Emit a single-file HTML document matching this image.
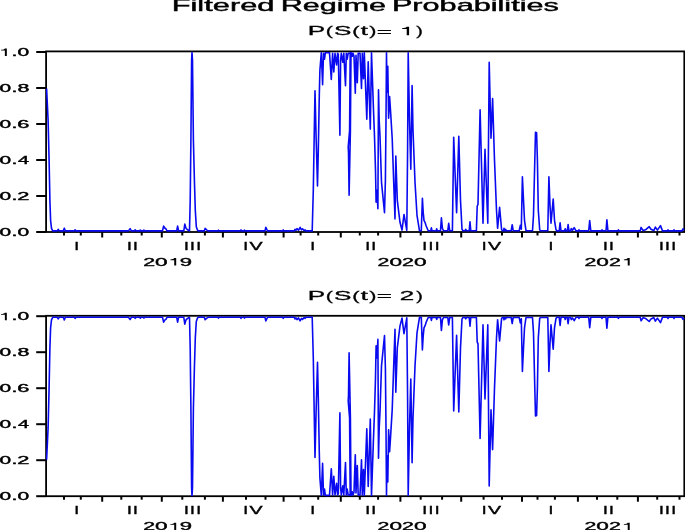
<!DOCTYPE html><html><head><meta charset="utf-8"><style>html,body{margin:0;padding:0;background:#fff;overflow:hidden}svg{display:block;will-change:transform}</style></head><body><svg width="685" height="530" viewBox="0 0 685 530" font-family="'Liberation Sans', sans-serif">
<rect width="685" height="530" fill="#fff"/>
<text transform="translate(171.72,10.50) scale(1.925,1)" font-size="16" font-weight="normal" stroke="#000" stroke-width="0.4">Filtered</text>
<text transform="translate(280.64,10.50) scale(1.911,1)" font-size="16" font-weight="normal" stroke="#000" stroke-width="0.4">Regime</text>
<text transform="translate(391.93,10.50) scale(1.915,1)" font-size="16" font-weight="normal" stroke="#000" stroke-width="0.4">Probabilities</text>
<text transform="translate(307.74,35.30) scale(2.112,1)" font-size="12.3" font-weight="normal" stroke="#000" stroke-width="0.3">P</text>
<text transform="translate(325.77,35.30) scale(1.744,1)" font-size="12.3" font-weight="normal" stroke="#000" stroke-width="0.3">(</text>
<text transform="translate(334.01,35.30) scale(2.120,1)" font-size="12.3" font-weight="normal" stroke="#000" stroke-width="0.3">S</text>
<text transform="translate(352.26,35.30) scale(1.772,1)" font-size="12.3" font-weight="normal" stroke="#000" stroke-width="0.3">(</text>
<text transform="translate(360.70,35.30) scale(2.074,1)" font-size="12.3" font-weight="normal" stroke="#000" stroke-width="0.3">t</text>
<text transform="translate(369.15,35.30) scale(1.744,1)" font-size="12.3" font-weight="normal" stroke="#000" stroke-width="0.3">)</text>
<text transform="translate(376.72,36.00) scale(2.112,1)" font-size="12.3" font-weight="normal" stroke="#000" stroke-width="0.3">=</text>
<polygon points="406.72,26.69 409.10,26.69 409.10,35.30 406.72,35.30 406.72,29.09 402.10,29.09 402.10,28.23 403.68,28.10 405.27,27.74 406.19,27.24" fill="#000"/>
<text transform="translate(416.14,35.30) scale(1.601,1)" font-size="12.3" font-weight="normal" stroke="#000" stroke-width="0.3">)</text>
<rect x="46.1" y="51.4" width="638.1999999999999" height="180.6" fill="none" stroke="#000" stroke-width="1.8"/>
<polyline points="46.60,88.50 48.10,120.30 49.10,160.30 49.90,200.30 50.60,220.30 51.50,228.30 52.70,230.90 57.20,230.90 58.20,229.30 59.20,230.90 63.30,230.90 64.30,228.20 65.30,230.90 74.30,230.90 75.10,229.80 76.00,230.90 128.50,230.90 130.10,228.70 131.30,230.90 134.50,230.90 135.20,229.80 136.00,230.90 139.50,230.90 140.30,230.10 141.00,230.90 143.30,230.90 143.90,230.10 144.50,230.90 162.50,230.90 163.60,226.10 165.00,228.30 165.90,228.80 167.00,230.90 176.70,230.90 177.60,226.10 178.60,230.90 183.80,230.90 184.80,224.10 186.00,228.30 187.50,229.80 189.50,230.90 190.20,200.30 190.90,140.30 191.60,60.30 192.00,52.50 192.50,60.30 193.40,140.30 194.40,180.30 195.30,210.30 196.30,226.70 197.50,230.30 198.50,230.90 204.30,230.90 205.10,228.40 206.50,229.80 208.10,230.90 218.00,230.90 218.50,230.10 219.00,230.90 240.30,230.90 241.00,229.90 241.70,230.90 244.00,230.90 244.50,230.10 245.00,230.90 265.00,230.90 265.80,227.30 267.50,230.90 282.60,230.90 283.20,229.90 283.80,230.90 294.30,230.90 295.00,229.30 296.00,230.30 297.00,228.60 298.50,230.30 300.10,227.30 301.50,229.80 302.50,228.80 304.00,230.60 305.00,229.80 306.00,230.90 312.20,230.90 313.30,190.30 314.30,130.30 315.00,90.80 316.20,140.30 317.50,185.90 318.30,150.30 319.30,95.30 319.90,70.30 321.30,52.80 322.60,84.80 323.50,53.30 324.50,59.10 325.30,52.80 329.50,52.80 331.30,79.50 332.60,53.30 333.80,72.00 335.00,53.30 336.60,64.90 337.60,53.30 338.30,54.30 339.90,135.30 340.60,60.30 341.30,53.30 342.80,62.30 343.80,53.30 345.50,85.70 346.30,53.30 347.20,59.10 348.20,53.30 349.60,53.30 350.20,52.80 349.60,130.30 348.20,147.30 348.50,152.30 349.10,195.30 350.40,130.30 351.00,52.80 351.80,53.30 352.30,56.30 353.00,53.30 354.00,56.30 355.30,93.30 356.00,55.30 357.30,82.70 358.20,53.30 360.00,53.30 361.50,88.50 362.30,53.30 363.50,78.70 364.30,52.80 366.80,119.30 368.20,61.80 370.30,129.10 371.50,52.80 373.50,110.30 374.50,136.30 375.50,170.30 376.10,202.30 377.00,190.30 377.90,208.80 378.50,89.90 379.20,120.30 380.00,136.30 381.50,182.30 384.50,212.70 385.40,180.30 386.00,120.30 386.50,52.80 387.00,92.30 387.80,66.30 388.60,118.30 389.60,96.60 390.50,110.30 392.20,138.30 393.70,182.30 395.00,218.90 395.80,156.00 397.30,200.30 400.00,222.30 402.00,230.10 404.00,214.50 406.80,230.30 407.60,150.30 408.20,52.80 409.50,120.30 410.80,169.20 412.10,85.50 413.00,130.30 415.00,182.30 417.00,215.30 419.50,230.80 421.30,230.70 422.40,198.30 423.20,212.30 424.00,220.40 425.00,222.30 426.10,225.80 428.20,230.70 430.80,230.70 431.40,227.80 432.00,230.70 436.20,230.70 436.70,228.80 437.30,230.70 440.50,230.70 441.40,217.80 442.40,228.30 443.50,230.70 447.80,230.70 448.70,223.30 449.70,230.70 452.40,230.70 453.70,137.30 456.60,212.80 458.80,136.30 460.50,200.30 462.00,229.30 463.00,230.70 465.00,230.70 465.70,229.30 466.50,230.70 469.20,230.70 470.00,221.90 470.80,230.70 476.40,230.70 477.20,206.30 478.00,204.30 480.10,109.70 483.00,223.30 485.00,149.30 487.80,223.30 489.20,62.30 491.00,138.30 492.60,98.60 494.50,160.30 496.50,210.30 497.60,228.30 499.60,207.30 501.60,229.80 502.50,230.70 503.50,230.70 504.00,228.30 504.70,230.70 505.30,230.70 505.70,229.30 506.20,230.70 511.20,230.70 512.20,224.70 513.20,230.70 519.20,230.70 520.30,225.30 521.30,229.30 522.40,176.70 523.50,200.30 524.50,220.30 526.00,230.70 532.50,230.70 533.50,215.30 534.80,160.30 535.50,132.30 536.60,132.80 537.40,160.30 538.30,210.30 539.70,229.80 540.50,230.70 547.80,230.70 548.90,176.70 550.00,205.30 551.00,223.30 553.20,199.00 554.50,220.30 556.00,229.80 557.00,230.90 559.20,230.90 560.10,222.80 561.00,230.90 564.50,230.90 565.20,228.80 566.00,230.90 567.30,230.90 568.10,224.50 569.00,230.90 570.50,230.90 571.30,228.60 572.50,230.30 574.20,227.60 576.00,230.90 578.50,230.90 579.00,229.80 579.50,230.90 588.70,230.90 589.70,220.60 590.80,230.90 601.50,230.90 602.00,229.80 602.50,230.90 606.00,230.90 606.90,219.90 607.90,230.90 617.80,230.90 618.40,229.80 619.00,230.90 640.20,230.90 641.10,227.40 643.10,230.60 645.50,229.80 649.20,226.70 651.00,229.30 653.80,230.60 655.40,227.10 657.40,230.10 660.50,225.60 662.50,230.90 667.50,230.90 668.00,229.80 668.50,230.90 673.50,230.90 674.00,229.80 674.50,230.90 682.00,230.90 683.00,228.80 684.00,230.30" fill="none" stroke="#0a0af0" stroke-width="1.6" stroke-linejoin="round"/>
<line x1="36.2" y1="232.00" x2="46.1" y2="232.00" stroke="#000" stroke-width="2"/>
<text transform="translate(-0.45,236.05) scale(1.934,1)" font-size="10.8" font-weight="normal" stroke="#000" stroke-width="0.4">0</text>
<text transform="translate(11.39,236.05) scale(1.959,1)" font-size="10.8" font-weight="normal" stroke="#000" stroke-width="0.4">.</text>
<text transform="translate(17.60,236.05) scale(1.943,1)" font-size="10.8" font-weight="normal" stroke="#000" stroke-width="0.4">0</text>
<line x1="36.2" y1="196.00" x2="46.1" y2="196.00" stroke="#000" stroke-width="2"/>
<text transform="translate(-0.45,200.05) scale(1.934,1)" font-size="10.8" font-weight="normal" stroke="#000" stroke-width="0.4">0</text>
<text transform="translate(11.39,200.05) scale(1.959,1)" font-size="10.8" font-weight="normal" stroke="#000" stroke-width="0.4">.</text>
<text transform="translate(17.36,200.05) scale(2.021,1)" font-size="10.8" font-weight="normal" stroke="#000" stroke-width="0.4">2</text>
<line x1="36.2" y1="160.00" x2="46.1" y2="160.00" stroke="#000" stroke-width="2"/>
<text transform="translate(-0.45,164.05) scale(1.934,1)" font-size="10.8" font-weight="normal" stroke="#000" stroke-width="0.4">0</text>
<text transform="translate(11.39,164.05) scale(1.959,1)" font-size="10.8" font-weight="normal" stroke="#000" stroke-width="0.4">.</text>
<text transform="translate(18.02,164.05) scale(1.836,1)" font-size="10.8" font-weight="normal" stroke="#000" stroke-width="0.4">4</text>
<line x1="36.2" y1="124.00" x2="46.1" y2="124.00" stroke="#000" stroke-width="2"/>
<text transform="translate(-0.45,128.05) scale(1.934,1)" font-size="10.8" font-weight="normal" stroke="#000" stroke-width="0.4">0</text>
<text transform="translate(11.39,128.05) scale(1.959,1)" font-size="10.8" font-weight="normal" stroke="#000" stroke-width="0.4">.</text>
<text transform="translate(17.36,128.05) scale(2.021,1)" font-size="10.8" font-weight="normal" stroke="#000" stroke-width="0.4">6</text>
<line x1="36.2" y1="88.00" x2="46.1" y2="88.00" stroke="#000" stroke-width="2"/>
<text transform="translate(-0.45,92.05) scale(1.934,1)" font-size="10.8" font-weight="normal" stroke="#000" stroke-width="0.4">0</text>
<text transform="translate(11.39,92.05) scale(1.959,1)" font-size="10.8" font-weight="normal" stroke="#000" stroke-width="0.4">.</text>
<text transform="translate(17.59,92.05) scale(1.981,1)" font-size="10.8" font-weight="normal" stroke="#000" stroke-width="0.4">8</text>
<line x1="36.2" y1="52.00" x2="46.1" y2="52.00" stroke="#000" stroke-width="2"/>
<polygon points="4.87,48.49 6.83,48.49 6.83,56.05 4.87,56.05 4.87,50.60 1.05,50.60 1.05,49.84 2.36,49.73 3.67,49.41 4.43,48.98" fill="#000"/>
<text transform="translate(11.39,56.05) scale(1.959,1)" font-size="10.8" font-weight="normal" stroke="#000" stroke-width="0.4">.</text>
<text transform="translate(17.60,56.05) scale(1.943,1)" font-size="10.8" font-weight="normal" stroke="#000" stroke-width="0.4">0</text>
<line x1="102.2" y1="232.0" x2="102.2" y2="237.5" stroke="#000" stroke-width="2"/>
<line x1="161.8" y1="232.0" x2="161.8" y2="237.5" stroke="#000" stroke-width="2"/>
<line x1="222.9" y1="232.0" x2="222.9" y2="237.5" stroke="#000" stroke-width="2"/>
<line x1="283.6" y1="232.0" x2="283.6" y2="237.5" stroke="#000" stroke-width="2"/>
<line x1="340.8" y1="232.0" x2="340.8" y2="237.5" stroke="#000" stroke-width="2"/>
<line x1="400.4" y1="232.0" x2="400.4" y2="237.5" stroke="#000" stroke-width="2"/>
<line x1="461.2" y1="232.0" x2="461.2" y2="237.5" stroke="#000" stroke-width="2"/>
<line x1="522.0" y1="232.0" x2="522.0" y2="237.5" stroke="#000" stroke-width="2"/>
<line x1="577.9" y1="232.0" x2="577.9" y2="237.5" stroke="#000" stroke-width="2"/>
<line x1="637.9" y1="232.0" x2="637.9" y2="237.5" stroke="#000" stroke-width="2"/>
<line x1="64.0" y1="232.0" x2="64.0" y2="235.5" stroke="#000" stroke-width="2"/>
<line x1="80.8" y1="232.0" x2="80.8" y2="235.5" stroke="#000" stroke-width="2"/>
<line x1="121.3" y1="232.0" x2="121.3" y2="235.5" stroke="#000" stroke-width="2"/>
<line x1="141.7" y1="232.0" x2="141.7" y2="235.5" stroke="#000" stroke-width="2"/>
<line x1="182.3" y1="232.0" x2="182.3" y2="235.5" stroke="#000" stroke-width="2"/>
<line x1="204.9" y1="232.0" x2="204.9" y2="235.5" stroke="#000" stroke-width="2"/>
<line x1="246.0" y1="232.0" x2="246.0" y2="235.5" stroke="#000" stroke-width="2"/>
<line x1="265.5" y1="232.0" x2="265.5" y2="235.5" stroke="#000" stroke-width="2"/>
<line x1="300.6" y1="232.0" x2="300.6" y2="235.5" stroke="#000" stroke-width="2"/>
<line x1="318.2" y1="232.0" x2="318.2" y2="235.5" stroke="#000" stroke-width="2"/>
<line x1="359.8" y1="232.0" x2="359.8" y2="235.5" stroke="#000" stroke-width="2"/>
<line x1="378.1" y1="232.0" x2="378.1" y2="235.5" stroke="#000" stroke-width="2"/>
<line x1="420.7" y1="232.0" x2="420.7" y2="235.5" stroke="#000" stroke-width="2"/>
<line x1="442.1" y1="232.0" x2="442.1" y2="235.5" stroke="#000" stroke-width="2"/>
<line x1="483.6" y1="232.0" x2="483.6" y2="235.5" stroke="#000" stroke-width="2"/>
<line x1="502.0" y1="232.0" x2="502.0" y2="235.5" stroke="#000" stroke-width="2"/>
<line x1="537.5" y1="232.0" x2="537.5" y2="235.5" stroke="#000" stroke-width="2"/>
<line x1="554.9" y1="232.0" x2="554.9" y2="235.5" stroke="#000" stroke-width="2"/>
<line x1="597.0" y1="232.0" x2="597.0" y2="235.5" stroke="#000" stroke-width="2"/>
<line x1="617.3" y1="232.0" x2="617.3" y2="235.5" stroke="#000" stroke-width="2"/>
<line x1="657.2" y1="232.0" x2="657.2" y2="235.5" stroke="#000" stroke-width="2"/>
<line x1="679.5" y1="232.0" x2="679.5" y2="235.5" stroke="#000" stroke-width="2"/>
<text transform="translate(74.27,249.50) scale(1.608,1)" font-size="10.8" font-weight="normal" stroke="#000" stroke-width="0.35">I</text>
<text transform="translate(127.07,249.50) scale(1.608,1)" font-size="10.8" font-weight="normal" stroke="#000" stroke-width="0.35">I</text>
<text transform="translate(133.07,249.50) scale(1.608,1)" font-size="10.8" font-weight="normal" stroke="#000" stroke-width="0.35">I</text>
<text transform="translate(183.97,249.50) scale(1.608,1)" font-size="10.8" font-weight="normal" stroke="#000" stroke-width="0.35">I</text>
<text transform="translate(190.07,249.50) scale(1.608,1)" font-size="10.8" font-weight="normal" stroke="#000" stroke-width="0.35">I</text>
<text transform="translate(196.37,249.50) scale(1.608,1)" font-size="10.8" font-weight="normal" stroke="#000" stroke-width="0.35">I</text>
<text transform="translate(243.37,249.50) scale(1.608,1)" font-size="10.8" font-weight="normal" stroke="#000" stroke-width="0.35">I</text>
<text transform="translate(249.52,249.50) scale(1.818,1)" font-size="10.8" font-weight="normal" stroke="#000" stroke-width="0.35">V</text>
<text transform="translate(310.27,249.50) scale(1.608,1)" font-size="10.8" font-weight="normal" stroke="#000" stroke-width="0.35">I</text>
<text transform="translate(365.27,249.50) scale(1.608,1)" font-size="10.8" font-weight="normal" stroke="#000" stroke-width="0.35">I</text>
<text transform="translate(371.27,249.50) scale(1.608,1)" font-size="10.8" font-weight="normal" stroke="#000" stroke-width="0.35">I</text>
<text transform="translate(422.37,249.50) scale(1.608,1)" font-size="10.8" font-weight="normal" stroke="#000" stroke-width="0.35">I</text>
<text transform="translate(428.57,249.50) scale(1.608,1)" font-size="10.8" font-weight="normal" stroke="#000" stroke-width="0.35">I</text>
<text transform="translate(434.77,249.50) scale(1.608,1)" font-size="10.8" font-weight="normal" stroke="#000" stroke-width="0.35">I</text>
<text transform="translate(481.77,249.50) scale(1.608,1)" font-size="10.8" font-weight="normal" stroke="#000" stroke-width="0.35">I</text>
<text transform="translate(487.92,249.50) scale(1.818,1)" font-size="10.8" font-weight="normal" stroke="#000" stroke-width="0.35">V</text>
<text transform="translate(548.57,249.50) scale(1.608,1)" font-size="10.8" font-weight="normal" stroke="#000" stroke-width="0.35">I</text>
<text transform="translate(603.07,249.50) scale(1.608,1)" font-size="10.8" font-weight="normal" stroke="#000" stroke-width="0.35">I</text>
<text transform="translate(609.07,249.50) scale(1.608,1)" font-size="10.8" font-weight="normal" stroke="#000" stroke-width="0.35">I</text>
<text transform="translate(658.97,249.50) scale(1.608,1)" font-size="10.8" font-weight="normal" stroke="#000" stroke-width="0.35">I</text>
<text transform="translate(665.07,249.50) scale(1.608,1)" font-size="10.8" font-weight="normal" stroke="#000" stroke-width="0.35">I</text>
<text transform="translate(671.27,249.50) scale(1.608,1)" font-size="10.8" font-weight="normal" stroke="#000" stroke-width="0.35">I</text>
<text transform="translate(143.18,265.60) scale(1.974,1)" font-size="10.8" font-weight="normal" stroke="#000" stroke-width="0.35">2</text>
<text transform="translate(155.11,265.60) scale(2.096,1)" font-size="10.8" font-weight="normal" stroke="#000" stroke-width="0.35">0</text>
<polygon points="174.23,258.04 176.20,258.04 176.20,265.60 174.23,265.60 174.23,260.15 170.40,260.15 170.40,259.39 171.71,259.28 173.03,258.96 173.79,258.53" fill="#000"/>
<text transform="translate(179.75,265.60) scale(2.050,1)" font-size="10.8" font-weight="normal" stroke="#000" stroke-width="0.35">9</text>
<text transform="translate(377.48,265.60) scale(1.974,1)" font-size="10.8" font-weight="normal" stroke="#000" stroke-width="0.35">2</text>
<text transform="translate(389.41,265.60) scale(2.096,1)" font-size="10.8" font-weight="normal" stroke="#000" stroke-width="0.35">0</text>
<text transform="translate(402.08,265.60) scale(1.974,1)" font-size="10.8" font-weight="normal" stroke="#000" stroke-width="0.35">2</text>
<text transform="translate(414.01,265.60) scale(2.096,1)" font-size="10.8" font-weight="normal" stroke="#000" stroke-width="0.35">0</text>
<text transform="translate(584.38,265.60) scale(1.974,1)" font-size="10.8" font-weight="normal" stroke="#000" stroke-width="0.35">2</text>
<text transform="translate(596.31,265.60) scale(2.096,1)" font-size="10.8" font-weight="normal" stroke="#000" stroke-width="0.35">0</text>
<text transform="translate(608.98,265.60) scale(1.974,1)" font-size="10.8" font-weight="normal" stroke="#000" stroke-width="0.35">2</text>
<polygon points="627.73,258.04 629.70,258.04 629.70,265.60 627.73,265.60 627.73,260.15 623.90,260.15 623.90,259.39 625.21,259.28 626.53,258.96 627.29,258.53" fill="#000"/>
<text transform="translate(307.74,299.50) scale(2.112,1)" font-size="12.3" font-weight="normal" stroke="#000" stroke-width="0.3">P</text>
<text transform="translate(325.77,299.50) scale(1.744,1)" font-size="12.3" font-weight="normal" stroke="#000" stroke-width="0.3">(</text>
<text transform="translate(334.01,299.50) scale(2.120,1)" font-size="12.3" font-weight="normal" stroke="#000" stroke-width="0.3">S</text>
<text transform="translate(352.26,299.50) scale(1.772,1)" font-size="12.3" font-weight="normal" stroke="#000" stroke-width="0.3">(</text>
<text transform="translate(360.70,299.50) scale(2.074,1)" font-size="12.3" font-weight="normal" stroke="#000" stroke-width="0.3">t</text>
<text transform="translate(369.15,299.50) scale(1.744,1)" font-size="12.3" font-weight="normal" stroke="#000" stroke-width="0.3">)</text>
<text transform="translate(376.72,300.20) scale(2.112,1)" font-size="12.3" font-weight="normal" stroke="#000" stroke-width="0.3">=</text>
<text transform="translate(399.72,299.50) scale(2.115,1)" font-size="12.3" font-weight="normal" stroke="#000" stroke-width="0.3">2</text>
<text transform="translate(416.14,299.50) scale(1.601,1)" font-size="12.3" font-weight="normal" stroke="#000" stroke-width="0.3">)</text>
<rect x="46.1" y="315.8" width="638.1999999999999" height="180.39999999999998" fill="none" stroke="#000" stroke-width="1.8"/>
<polyline points="46.60,459.70 48.10,427.90 49.10,387.90 49.90,347.90 50.60,327.90 51.50,319.90 52.70,317.30 57.20,317.30 58.20,318.90 59.20,317.30 63.30,317.30 64.30,320.00 65.30,317.30 74.30,317.30 75.10,318.40 76.00,317.30 128.50,317.30 130.10,319.50 131.30,317.30 134.50,317.30 135.20,318.40 136.00,317.30 139.50,317.30 140.30,318.10 141.00,317.30 143.30,317.30 143.90,318.10 144.50,317.30 162.50,317.30 163.60,322.10 165.00,319.90 165.90,319.40 167.00,317.30 176.70,317.30 177.60,322.10 178.60,317.30 183.80,317.30 184.80,324.10 186.00,319.90 187.50,318.40 189.50,317.30 190.20,347.90 190.90,407.90 191.60,487.90 192.00,495.70 192.50,487.90 193.40,407.90 194.40,367.90 195.30,337.90 196.30,321.50 197.50,317.90 198.50,317.30 204.30,317.30 205.10,319.80 206.50,318.40 208.10,317.30 218.00,317.30 218.50,318.10 219.00,317.30 240.30,317.30 241.00,318.30 241.70,317.30 244.00,317.30 244.50,318.10 245.00,317.30 265.00,317.30 265.80,320.90 267.50,317.30 282.60,317.30 283.20,318.30 283.80,317.30 294.30,317.30 295.00,318.90 296.00,317.90 297.00,319.60 298.50,317.90 300.10,320.90 301.50,318.40 302.50,319.40 304.00,317.60 305.00,318.40 306.00,317.30 312.20,317.30 313.30,357.90 314.30,417.90 315.00,457.40 316.20,407.90 317.50,362.30 318.30,397.90 319.30,452.90 319.90,477.90 321.30,495.40 322.60,463.40 323.50,494.90 324.50,489.10 325.30,495.40 329.50,495.40 331.30,468.70 332.60,494.90 333.80,476.20 335.00,494.90 336.60,483.30 337.60,494.90 338.30,493.90 339.90,412.90 340.60,487.90 341.30,494.90 342.80,485.90 343.80,494.90 345.50,462.50 346.30,494.90 347.20,489.10 348.20,494.90 349.60,494.90 350.20,495.40 349.60,417.90 348.20,400.90 348.50,395.90 349.10,352.90 350.40,417.90 351.00,495.40 351.80,494.90 352.30,491.90 353.00,494.90 354.00,491.90 355.30,454.90 356.00,492.90 357.30,465.50 358.20,494.90 360.00,494.90 361.50,459.70 362.30,494.90 363.50,469.50 364.30,495.40 366.80,428.90 368.20,486.40 370.30,419.10 371.50,495.40 373.50,437.90 374.50,411.90 375.50,377.90 376.10,345.90 377.00,357.90 377.90,339.40 378.50,458.30 379.20,427.90 380.00,411.90 381.50,365.90 384.50,335.50 385.40,367.90 386.00,427.90 386.50,495.40 387.00,455.90 387.80,481.90 388.60,429.90 389.60,451.60 390.50,437.90 392.20,409.90 393.70,365.90 395.00,329.30 395.80,392.20 397.30,347.90 400.00,325.90 402.00,318.10 404.00,333.70 406.80,317.90 407.60,397.90 408.20,495.40 409.50,427.90 410.80,379.00 412.10,462.70 413.00,417.90 415.00,365.90 417.00,332.90 419.50,317.40 421.30,317.50 422.40,349.90 423.20,335.90 424.00,327.80 425.00,325.90 426.10,322.40 428.20,317.50 430.80,317.50 431.40,320.40 432.00,317.50 436.20,317.50 436.70,319.40 437.30,317.50 440.50,317.50 441.40,330.40 442.40,319.90 443.50,317.50 447.80,317.50 448.70,324.90 449.70,317.50 452.40,317.50 453.70,410.90 456.60,335.40 458.80,411.90 460.50,347.90 462.00,318.90 463.00,317.50 465.00,317.50 465.70,318.90 466.50,317.50 469.20,317.50 470.00,326.30 470.80,317.50 476.40,317.50 477.20,341.90 478.00,343.90 480.10,438.50 483.00,324.90 485.00,398.90 487.80,324.90 489.20,485.90 491.00,409.90 492.60,449.60 494.50,387.90 496.50,337.90 497.60,319.90 499.60,340.90 501.60,318.40 502.50,317.50 503.50,317.50 504.00,319.90 504.70,317.50 505.30,317.50 505.70,318.90 506.20,317.50 511.20,317.50 512.20,323.50 513.20,317.50 519.20,317.50 520.30,322.90 521.30,318.90 522.40,371.50 523.50,347.90 524.50,327.90 526.00,317.50 532.50,317.50 533.50,332.90 534.80,387.90 535.50,415.90 536.60,415.40 537.40,387.90 538.30,337.90 539.70,318.40 540.50,317.50 547.80,317.50 548.90,371.50 550.00,342.90 551.00,324.90 553.20,349.20 554.50,327.90 556.00,318.40 557.00,317.30 559.20,317.30 560.10,325.40 561.00,317.30 564.50,317.30 565.20,319.40 566.00,317.30 567.30,317.30 568.10,323.70 569.00,317.30 570.50,317.30 571.30,319.60 572.50,317.90 574.20,320.60 576.00,317.30 578.50,317.30 579.00,318.40 579.50,317.30 588.70,317.30 589.70,327.60 590.80,317.30 601.50,317.30 602.00,318.40 602.50,317.30 606.00,317.30 606.90,328.30 607.90,317.30 617.80,317.30 618.40,318.40 619.00,317.30 640.20,317.30 641.10,320.80 643.10,317.60 645.50,318.40 649.20,321.50 651.00,318.90 653.80,317.60 655.40,321.10 657.40,318.10 660.50,322.60 662.50,317.30 667.50,317.30 668.00,318.40 668.50,317.30 673.50,317.30 674.00,318.40 674.50,317.30 682.00,317.30 683.00,319.40 684.00,317.90" fill="none" stroke="#0a0af0" stroke-width="1.6" stroke-linejoin="round"/>
<line x1="36.2" y1="496.20" x2="46.1" y2="496.20" stroke="#000" stroke-width="2"/>
<text transform="translate(-0.45,500.25) scale(1.934,1)" font-size="10.8" font-weight="normal" stroke="#000" stroke-width="0.4">0</text>
<text transform="translate(11.39,500.25) scale(1.959,1)" font-size="10.8" font-weight="normal" stroke="#000" stroke-width="0.4">.</text>
<text transform="translate(17.60,500.25) scale(1.943,1)" font-size="10.8" font-weight="normal" stroke="#000" stroke-width="0.4">0</text>
<line x1="36.2" y1="460.20" x2="46.1" y2="460.20" stroke="#000" stroke-width="2"/>
<text transform="translate(-0.45,464.25) scale(1.934,1)" font-size="10.8" font-weight="normal" stroke="#000" stroke-width="0.4">0</text>
<text transform="translate(11.39,464.25) scale(1.959,1)" font-size="10.8" font-weight="normal" stroke="#000" stroke-width="0.4">.</text>
<text transform="translate(17.36,464.25) scale(2.021,1)" font-size="10.8" font-weight="normal" stroke="#000" stroke-width="0.4">2</text>
<line x1="36.2" y1="424.20" x2="46.1" y2="424.20" stroke="#000" stroke-width="2"/>
<text transform="translate(-0.45,428.25) scale(1.934,1)" font-size="10.8" font-weight="normal" stroke="#000" stroke-width="0.4">0</text>
<text transform="translate(11.39,428.25) scale(1.959,1)" font-size="10.8" font-weight="normal" stroke="#000" stroke-width="0.4">.</text>
<text transform="translate(18.02,428.25) scale(1.836,1)" font-size="10.8" font-weight="normal" stroke="#000" stroke-width="0.4">4</text>
<line x1="36.2" y1="388.20" x2="46.1" y2="388.20" stroke="#000" stroke-width="2"/>
<text transform="translate(-0.45,392.25) scale(1.934,1)" font-size="10.8" font-weight="normal" stroke="#000" stroke-width="0.4">0</text>
<text transform="translate(11.39,392.25) scale(1.959,1)" font-size="10.8" font-weight="normal" stroke="#000" stroke-width="0.4">.</text>
<text transform="translate(17.36,392.25) scale(2.021,1)" font-size="10.8" font-weight="normal" stroke="#000" stroke-width="0.4">6</text>
<line x1="36.2" y1="352.20" x2="46.1" y2="352.20" stroke="#000" stroke-width="2"/>
<text transform="translate(-0.45,356.25) scale(1.934,1)" font-size="10.8" font-weight="normal" stroke="#000" stroke-width="0.4">0</text>
<text transform="translate(11.39,356.25) scale(1.959,1)" font-size="10.8" font-weight="normal" stroke="#000" stroke-width="0.4">.</text>
<text transform="translate(17.59,356.25) scale(1.981,1)" font-size="10.8" font-weight="normal" stroke="#000" stroke-width="0.4">8</text>
<line x1="36.2" y1="316.20" x2="46.1" y2="316.20" stroke="#000" stroke-width="2"/>
<polygon points="4.87,312.69 6.83,312.69 6.83,320.25 4.87,320.25 4.87,314.80 1.05,314.80 1.05,314.04 2.36,313.93 3.67,313.61 4.43,313.18" fill="#000"/>
<text transform="translate(11.39,320.25) scale(1.959,1)" font-size="10.8" font-weight="normal" stroke="#000" stroke-width="0.4">.</text>
<text transform="translate(17.60,320.25) scale(1.943,1)" font-size="10.8" font-weight="normal" stroke="#000" stroke-width="0.4">0</text>
<line x1="102.2" y1="496.2" x2="102.2" y2="501.7" stroke="#000" stroke-width="2"/>
<line x1="161.8" y1="496.2" x2="161.8" y2="501.7" stroke="#000" stroke-width="2"/>
<line x1="222.9" y1="496.2" x2="222.9" y2="501.7" stroke="#000" stroke-width="2"/>
<line x1="283.6" y1="496.2" x2="283.6" y2="501.7" stroke="#000" stroke-width="2"/>
<line x1="340.8" y1="496.2" x2="340.8" y2="501.7" stroke="#000" stroke-width="2"/>
<line x1="400.4" y1="496.2" x2="400.4" y2="501.7" stroke="#000" stroke-width="2"/>
<line x1="461.2" y1="496.2" x2="461.2" y2="501.7" stroke="#000" stroke-width="2"/>
<line x1="522.0" y1="496.2" x2="522.0" y2="501.7" stroke="#000" stroke-width="2"/>
<line x1="577.9" y1="496.2" x2="577.9" y2="501.7" stroke="#000" stroke-width="2"/>
<line x1="637.9" y1="496.2" x2="637.9" y2="501.7" stroke="#000" stroke-width="2"/>
<line x1="64.0" y1="496.2" x2="64.0" y2="499.7" stroke="#000" stroke-width="2"/>
<line x1="80.8" y1="496.2" x2="80.8" y2="499.7" stroke="#000" stroke-width="2"/>
<line x1="121.3" y1="496.2" x2="121.3" y2="499.7" stroke="#000" stroke-width="2"/>
<line x1="141.7" y1="496.2" x2="141.7" y2="499.7" stroke="#000" stroke-width="2"/>
<line x1="182.3" y1="496.2" x2="182.3" y2="499.7" stroke="#000" stroke-width="2"/>
<line x1="204.9" y1="496.2" x2="204.9" y2="499.7" stroke="#000" stroke-width="2"/>
<line x1="246.0" y1="496.2" x2="246.0" y2="499.7" stroke="#000" stroke-width="2"/>
<line x1="265.5" y1="496.2" x2="265.5" y2="499.7" stroke="#000" stroke-width="2"/>
<line x1="300.6" y1="496.2" x2="300.6" y2="499.7" stroke="#000" stroke-width="2"/>
<line x1="318.2" y1="496.2" x2="318.2" y2="499.7" stroke="#000" stroke-width="2"/>
<line x1="359.8" y1="496.2" x2="359.8" y2="499.7" stroke="#000" stroke-width="2"/>
<line x1="378.1" y1="496.2" x2="378.1" y2="499.7" stroke="#000" stroke-width="2"/>
<line x1="420.7" y1="496.2" x2="420.7" y2="499.7" stroke="#000" stroke-width="2"/>
<line x1="442.1" y1="496.2" x2="442.1" y2="499.7" stroke="#000" stroke-width="2"/>
<line x1="483.6" y1="496.2" x2="483.6" y2="499.7" stroke="#000" stroke-width="2"/>
<line x1="502.0" y1="496.2" x2="502.0" y2="499.7" stroke="#000" stroke-width="2"/>
<line x1="537.5" y1="496.2" x2="537.5" y2="499.7" stroke="#000" stroke-width="2"/>
<line x1="554.9" y1="496.2" x2="554.9" y2="499.7" stroke="#000" stroke-width="2"/>
<line x1="597.0" y1="496.2" x2="597.0" y2="499.7" stroke="#000" stroke-width="2"/>
<line x1="617.3" y1="496.2" x2="617.3" y2="499.7" stroke="#000" stroke-width="2"/>
<line x1="657.2" y1="496.2" x2="657.2" y2="499.7" stroke="#000" stroke-width="2"/>
<line x1="679.5" y1="496.2" x2="679.5" y2="499.7" stroke="#000" stroke-width="2"/>
<text transform="translate(74.27,514.10) scale(1.608,1)" font-size="10.8" font-weight="normal" stroke="#000" stroke-width="0.35">I</text>
<text transform="translate(127.07,514.10) scale(1.608,1)" font-size="10.8" font-weight="normal" stroke="#000" stroke-width="0.35">I</text>
<text transform="translate(133.07,514.10) scale(1.608,1)" font-size="10.8" font-weight="normal" stroke="#000" stroke-width="0.35">I</text>
<text transform="translate(183.97,514.10) scale(1.608,1)" font-size="10.8" font-weight="normal" stroke="#000" stroke-width="0.35">I</text>
<text transform="translate(190.07,514.10) scale(1.608,1)" font-size="10.8" font-weight="normal" stroke="#000" stroke-width="0.35">I</text>
<text transform="translate(196.37,514.10) scale(1.608,1)" font-size="10.8" font-weight="normal" stroke="#000" stroke-width="0.35">I</text>
<text transform="translate(243.37,514.10) scale(1.608,1)" font-size="10.8" font-weight="normal" stroke="#000" stroke-width="0.35">I</text>
<text transform="translate(249.52,514.10) scale(1.818,1)" font-size="10.8" font-weight="normal" stroke="#000" stroke-width="0.35">V</text>
<text transform="translate(310.27,514.10) scale(1.608,1)" font-size="10.8" font-weight="normal" stroke="#000" stroke-width="0.35">I</text>
<text transform="translate(365.27,514.10) scale(1.608,1)" font-size="10.8" font-weight="normal" stroke="#000" stroke-width="0.35">I</text>
<text transform="translate(371.27,514.10) scale(1.608,1)" font-size="10.8" font-weight="normal" stroke="#000" stroke-width="0.35">I</text>
<text transform="translate(422.37,514.10) scale(1.608,1)" font-size="10.8" font-weight="normal" stroke="#000" stroke-width="0.35">I</text>
<text transform="translate(428.57,514.10) scale(1.608,1)" font-size="10.8" font-weight="normal" stroke="#000" stroke-width="0.35">I</text>
<text transform="translate(434.77,514.10) scale(1.608,1)" font-size="10.8" font-weight="normal" stroke="#000" stroke-width="0.35">I</text>
<text transform="translate(481.77,514.10) scale(1.608,1)" font-size="10.8" font-weight="normal" stroke="#000" stroke-width="0.35">I</text>
<text transform="translate(487.92,514.10) scale(1.818,1)" font-size="10.8" font-weight="normal" stroke="#000" stroke-width="0.35">V</text>
<text transform="translate(548.57,514.10) scale(1.608,1)" font-size="10.8" font-weight="normal" stroke="#000" stroke-width="0.35">I</text>
<text transform="translate(603.07,514.10) scale(1.608,1)" font-size="10.8" font-weight="normal" stroke="#000" stroke-width="0.35">I</text>
<text transform="translate(609.07,514.10) scale(1.608,1)" font-size="10.8" font-weight="normal" stroke="#000" stroke-width="0.35">I</text>
<text transform="translate(658.97,514.10) scale(1.608,1)" font-size="10.8" font-weight="normal" stroke="#000" stroke-width="0.35">I</text>
<text transform="translate(665.07,514.10) scale(1.608,1)" font-size="10.8" font-weight="normal" stroke="#000" stroke-width="0.35">I</text>
<text transform="translate(671.27,514.10) scale(1.608,1)" font-size="10.8" font-weight="normal" stroke="#000" stroke-width="0.35">I</text>
<text transform="translate(143.18,530.30) scale(1.974,1)" font-size="10.8" font-weight="normal" stroke="#000" stroke-width="0.35">2</text>
<text transform="translate(155.11,530.30) scale(2.096,1)" font-size="10.8" font-weight="normal" stroke="#000" stroke-width="0.35">0</text>
<polygon points="174.23,522.74 176.20,522.74 176.20,530.30 174.23,530.30 174.23,524.85 170.40,524.85 170.40,524.09 171.71,523.98 173.03,523.66 173.79,523.23" fill="#000"/>
<text transform="translate(179.75,530.30) scale(2.050,1)" font-size="10.8" font-weight="normal" stroke="#000" stroke-width="0.35">9</text>
<text transform="translate(377.48,530.30) scale(1.974,1)" font-size="10.8" font-weight="normal" stroke="#000" stroke-width="0.35">2</text>
<text transform="translate(389.41,530.30) scale(2.096,1)" font-size="10.8" font-weight="normal" stroke="#000" stroke-width="0.35">0</text>
<text transform="translate(402.08,530.30) scale(1.974,1)" font-size="10.8" font-weight="normal" stroke="#000" stroke-width="0.35">2</text>
<text transform="translate(414.01,530.30) scale(2.096,1)" font-size="10.8" font-weight="normal" stroke="#000" stroke-width="0.35">0</text>
<text transform="translate(584.38,530.30) scale(1.974,1)" font-size="10.8" font-weight="normal" stroke="#000" stroke-width="0.35">2</text>
<text transform="translate(596.31,530.30) scale(2.096,1)" font-size="10.8" font-weight="normal" stroke="#000" stroke-width="0.35">0</text>
<text transform="translate(608.98,530.30) scale(1.974,1)" font-size="10.8" font-weight="normal" stroke="#000" stroke-width="0.35">2</text>
<polygon points="627.73,522.74 629.70,522.74 629.70,530.30 627.73,530.30 627.73,524.85 623.90,524.85 623.90,524.09 625.21,523.98 626.53,523.66 627.29,523.23" fill="#000"/>
</svg></body></html>
